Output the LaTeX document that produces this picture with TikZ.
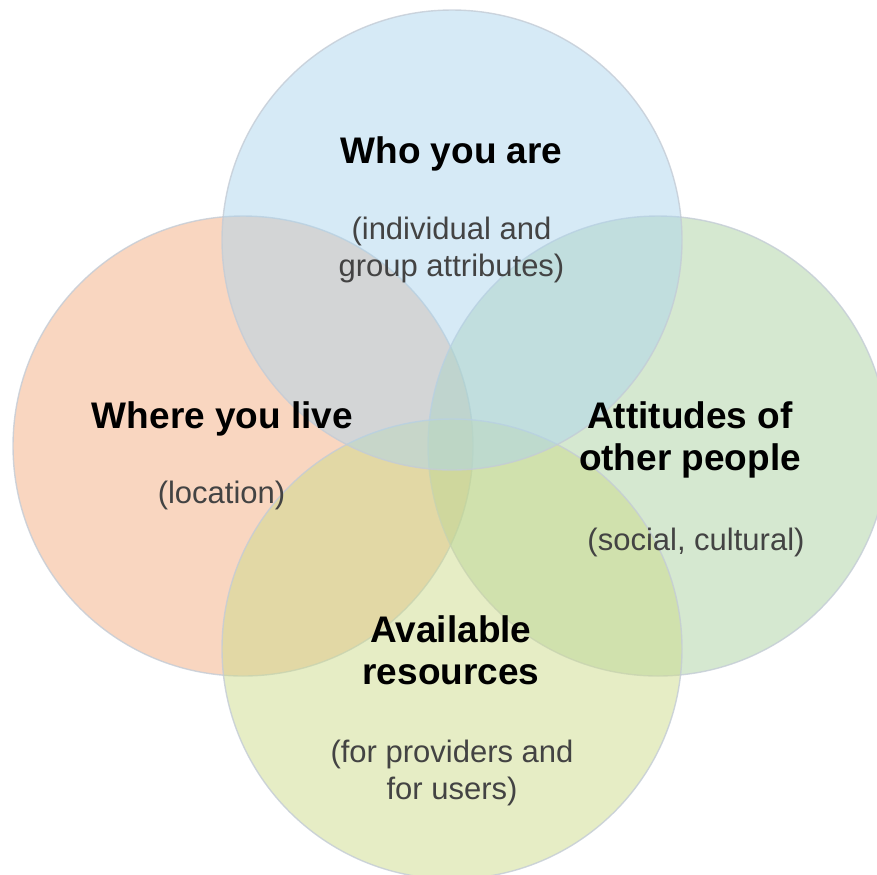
\documentclass[tikz,border=0pt]{standalone}
\usepackage{fontspec}
\setmainfont{Liberation Sans}
\definecolor{whoblue}{RGB}{173,213,237}
\definecolor{liveorange}{RGB}{243,173,129}
\definecolor{othersgreen}{RGB}{171,209,161}
\definecolor{resyellow}{RGB}{205,219,139}
\definecolor{rimgray}{RGB}{196,204,214}
\definecolor{notegray}{RGB}{67,67,67}
\begin{document}
\begin{tikzpicture}[x=0.5pt,y=-0.5pt,
	ring/.style={circle,draw=rimgray,line width=0.7pt,draw opacity=0.8,fill opacity=0.5,minimum size=230pt,inner sep=0pt,outer sep=0pt},
	heading/.style={anchor=base,align=center,font=\fontsize{18.5}{21}\selectfont\bfseries},
	remark/.style={anchor=base,align=center,text=notegray,font=\fontsize{15.5}{18.5}\selectfont}]
	\useasboundingbox (0,0) rectangle (877,874);
	% the four circles
	\node[ring,fill=liveorange] (live) at (243,446) {};
	\node[ring,fill=othersgreen] (others) at (658,446) {};
	\node[ring,fill=resyellow] (means) at (452,649) {};
	\node[ring,fill=whoblue] (who) at (452,240) {};
	% labels (base = last line)
	\node[heading] (whohead) at (451.5,163) {Who you are};
	\node[remark] (whonote) at (451.5,276) {(individual and\\group attributes)};
	\node[heading] (livehead) at (222.5,428) {Where you live};
	\node[remark] (livenote) at (221.5,503) {(location)};
	\node[heading] (othershead) at (690,470) {Attitudes of\\other people};
	\node[remark] (othersnote) at (696,550) {(social, cultural)};
	\node[heading] (meanshead) at (451,684) {Available\\resources};
	\node[remark] (meansnote) at (452,799) {(for providers and\\for users)};
\end{tikzpicture}
\end{document}
